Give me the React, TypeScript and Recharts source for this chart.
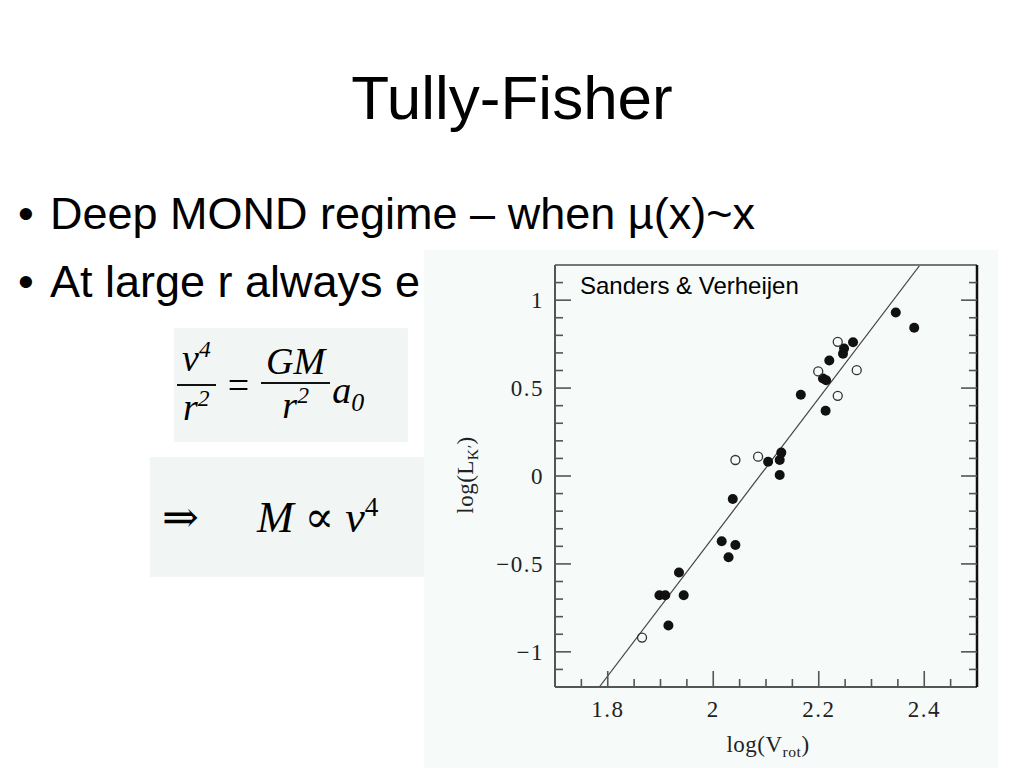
import React from "react";
import { ScatterChart, Scatter, XAxis, YAxis, ReferenceLine } from "recharts";

// Sanders & Verheijen K'-band Tully-Fisher points
const filledX = [2.346, 2.381, 2.265, 2.248, 2.246, 2.22, 2.208, 2.214, 2.166, 2.213, 2.104, 2.129, 2.126, 2.126, 2.037, 2.016, 2.042, 2.029, 1.935, 1.898, 1.909, 1.944, 1.915];
const filledY = [0.93, 0.843, 0.761, 0.725, 0.695, 0.657, 0.555, 0.545, 0.462, 0.371, 0.081, 0.133, 0.091, 0.006, -0.131, -0.371, -0.392, -0.462, -0.549, -0.678, -0.678, -0.678, -0.85];
const openX = [2.236, 2.199, 2.272, 2.236, 2.042, 2.085, 1.865];
const openY = [0.763, 0.595, 0.602, 0.456, 0.091, 0.11, -0.919];

// fitted line end points
const fitX = [1.784, 2.392];
const fitY = [-1.2, 1.2];

const xDomain = [1.7, 2.5];
const yDomain = [-1.2, 1.2];
const xTicks = [1.75, 1.8, 1.85, 1.9, 1.95, 2, 2.05, 2.1, 2.15, 2.2, 2.25, 2.3, 2.35, 2.4, 2.45];
const xLabels = [1.8, 2, 2.2, 2.4];
const yTicks = [-1.1, -1, -0.9, -0.8, -0.7, -0.6, -0.5, -0.4, -0.3, -0.2, -0.1, 0, 0.1, 0.2, 0.3, 0.4, 0.5, 0.6, 0.7, 0.8, 0.9, 1, 1.1];
const yLabels = [-1, -0.5, 0, 0.5, 1];

const filled = filledX.map((x, i) => ({ x, y: filledY[i] }));
const open = openX.map((x, i) => ({ x, y: openY[i] }));

const SERIF = "'Liberation Serif', 'DejaVu Serif', serif";
const SANS = "'Liberation Sans', Arial, sans-serif";
const TICK = "#555";
const MAJOR = 16;
const MINOR = 8;

const isLabel = (v: number, list: number[]) => list.some((l) => Math.abs(l - v) < 1e-6);
const fmt = (v: number) => (v < 0 ? "\u2212" + Math.abs(v) : String(v));

const tickText = { fontFamily: SERIF, fontSize: 23, letterSpacing: 1.5, fill: "#222" };

function BottomTick(props: any) {
  const { x, y, payload } = props;
  const major = isLabel(payload.value, xLabels);
  return (
    <g>
      <line x1={x} y1={y} x2={x} y2={y - (major ? MAJOR : MINOR)} stroke={TICK} strokeWidth={1.6} />
      {major && (
        <text x={x} y={y + 30} textAnchor="middle" {...tickText}>
          {fmt(payload.value)}
        </text>
      )}
    </g>
  );
}

function TopTick(props: any) {
  const { x, y, payload } = props;
  const major = isLabel(payload.value, xLabels);
  return <line x1={x} y1={y} x2={x} y2={y + (major ? MAJOR : MINOR)} stroke={TICK} strokeWidth={1.6} />;
}

function LeftTick(props: any) {
  const { x, y, payload } = props;
  const major = isLabel(payload.value, yLabels);
  return (
    <g>
      <line x1={x} y1={y} x2={x + (major ? MAJOR : MINOR)} y2={y} stroke={TICK} strokeWidth={1.6} />
      {major && (
        <text x={x - 11} y={y + 8} textAnchor="end" {...tickText}>
          {fmt(payload.value)}
        </text>
      )}
    </g>
  );
}

function RightTick(props: any) {
  const { x, y, payload } = props;
  const major = isLabel(payload.value, yLabels);
  return <line x1={x} y1={y} x2={x - (major ? MAJOR : MINOR)} y2={y} stroke={TICK} strokeWidth={1.6} />;
}

const Dot = (p: any) => <circle cx={p.cx} cy={p.cy} r={5} fill="#111" />;
const Ring = (p: any) => <circle cx={p.cx} cy={p.cy} r={4.5} fill="none" stroke="#333" strokeWidth={1.3} />;

const sub: React.CSSProperties = { fontSize: "0.68em", position: "relative", top: "0.3em" };
const sup: React.CSSProperties = { fontSize: "0.62em", position: "relative", top: "-0.6em" };

function Frac({ num, den }: { num: React.ReactNode; den: React.ReactNode }) {
  return (
    <span style={{ display: "inline-flex", flexDirection: "column", alignItems: "center", verticalAlign: "middle" }}>
      <span style={{ padding: "0 5px", lineHeight: "42px" }}>{num}</span>
      <span style={{ alignSelf: "stretch", borderTop: "2px solid #111" }} />
      <span style={{ padding: "0 5px", lineHeight: "42px" }}>{den}</span>
    </span>
  );
}

export default function App() {
  return (
    <div style={{ position: "absolute", left: 0, top: 0, width: 1024, height: 768, background: "#fff", overflow: "hidden", fontFamily: SANS, color: "#000" }}>
      <div style={{ position: "absolute", left: 0, width: 1024, top: 58, textAlign: "center", fontSize: 62, lineHeight: "80px" }}>
        Tully-Fisher
      </div>

      <div style={{ position: "absolute", left: 18, top: 189, fontSize: 45, lineHeight: "50px", whiteSpace: "nowrap" }}>
        <span style={{ display: "inline-block", width: 32 }}>•</span>Deep MOND regime – when µ(x)~x
      </div>
      <div style={{ position: "absolute", left: 18, top: 257, fontSize: 45, lineHeight: "50px", whiteSpace: "nowrap" }}>
        <span style={{ display: "inline-block", width: 32 }}>•</span>At large r always e
      </div>

      {/* equation images */}
      <div style={{ position: "absolute", left: 174, top: 328, width: 234, height: 114, background: "#f1f5f3", fontFamily: SERIF, fontSize: 38, display: "flex", alignItems: "center", paddingLeft: 3, boxSizing: "border-box", whiteSpace: "nowrap" }}>
        <Frac num={<i>v<span style={sup}>4</span></i>} den={<i>r<span style={sup}>2</span></i>} />
        <span style={{ margin: "0 12px" }}>=</span>
        <Frac num={<i>GM</i>} den={<i>r<span style={sup}>2</span></i>} />
        <i style={{ position: "relative", top: 5, marginLeft: 2 }}>a<span style={sub}>0</span></i>
      </div>
      <div style={{ position: "absolute", left: 150, top: 457, width: 280, height: 120, background: "#f1f5f3", fontFamily: SERIF, fontSize: 44, display: "flex", alignItems: "center", whiteSpace: "nowrap" }}>
        <span style={{ marginLeft: 12 }}>⇒</span>
        <span style={{ marginLeft: 58 }}><i>M</i> ∝ <i>v</i><span style={sup}>4</span></span>
      </div>

      {/* plot image */}
      <div style={{ position: "absolute", left: 424, top: 250, width: 574, height: 518, background: "#f6faf9" }}>
        <ScatterChart width={574} height={518} margin={{ top: 0, right: 1, bottom: 41, left: 51 }}>
          <XAxis dataKey="x" type="number" domain={xDomain} allowDataOverflow ticks={xTicks} interval={0} height={40}
            tickSize={0} tickMargin={0} tickLine={false} tick={<BottomTick />} axisLine={{ stroke: "#555", strokeWidth: 2 }} />
          <XAxis xAxisId="top" orientation="top" type="number" domain={xDomain} allowDataOverflow ticks={xTicks} interval={0} height={15}
            tickSize={0} tickMargin={0} tickLine={false} tick={<TopTick />} axisLine={{ stroke: "#777", strokeWidth: 2 }} />
          <YAxis dataKey="y" type="number" domain={yDomain} allowDataOverflow ticks={yTicks} interval={0} width={80}
            tickSize={0} tickMargin={0} tickLine={false} tick={<LeftTick />} axisLine={{ stroke: "#555", strokeWidth: 2 }} />
          <YAxis yAxisId="right" orientation="right" type="number" domain={yDomain} allowDataOverflow ticks={yTicks} interval={0} width={20}
            tickSize={0} tickMargin={0} tickLine={false} tick={<RightTick />} axisLine={{ stroke: "#111", strokeWidth: 2.5 }} />
          <ReferenceLine segment={[{ x: fitX[0], y: fitY[0] }, { x: fitX[1], y: fitY[1] }]} stroke="#444" strokeWidth={1.2} ifOverflow="hidden" />
          <Scatter data={filled} shape={Dot} isAnimationActive={false} />
          <Scatter data={open} shape={Ring} isAnimationActive={false} />
        </ScatterChart>

        <div style={{ position: "absolute", left: 156, top: 22, fontFamily: SANS, fontSize: 24, lineHeight: "28px", whiteSpace: "nowrap" }}>
          Sanders &amp; Verheijen
        </div>
        <div style={{ position: "absolute", left: 344, top: 495, transform: "translate(-50%, -50%)", fontFamily: SERIF, fontSize: 23, letterSpacing: 0.5, whiteSpace: "nowrap", color: "#222" }}>
          log(V<span style={sub}>rot</span>)
        </div>
        <div style={{ position: "absolute", left: 42, top: 225, transform: "translate(-50%, -50%) rotate(-90deg)", fontFamily: SERIF, fontSize: 23, letterSpacing: 0.5, whiteSpace: "nowrap", color: "#222" }}>
          log(L<span style={sub}>K′</span>)
        </div>
      </div>
    </div>
  );
}
